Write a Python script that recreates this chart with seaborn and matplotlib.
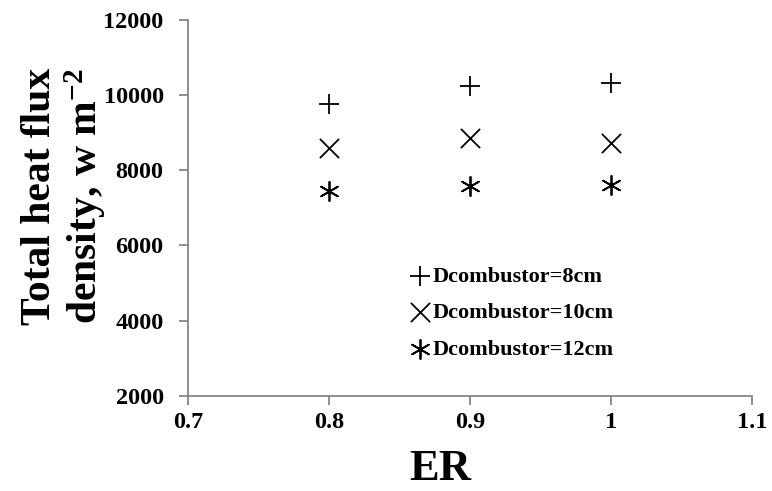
import matplotlib
matplotlib.use("Agg")
import matplotlib.pyplot as plt
import seaborn as sns
import pandas as pd

er = [0.8, 0.9, 1.0]
d8 = [9760, 10240, 10310]
d10 = [8580, 8850, 8720]
d12 = [7450, 7590, 7610]
labels = ["Dcombustor=8cm", "Dcombustor=10cm", "Dcombustor=12cm"]
xticks = [0.7, 0.8, 0.9, 1.0, 1.1]
xticklabels = ["0.7", "0.8", "0.9", "1", "1.1"]
yticks = [2000, 4000, 6000, 8000, 10000, 12000]

sns.set_theme(style="white")
plt.rcParams['font.family'] = ['Liberation Serif', 'DejaVu Serif']
plt.rcParams['font.weight'] = 'bold'
plt.rcParams['text.color'] = 'black'
plt.rcParams['axes.labelcolor'] = 'black'
plt.rcParams['mathtext.fontset'] = 'custom'
plt.rcParams['mathtext.rm'] = 'Liberation Serif:bold'
plt.rcParams['mathtext.bf'] = 'Liberation Serif:bold'
plt.rcParams['mathtext.default'] = 'bf'

fig = plt.figure(figsize=(7.72, 4.91), dpi=100)
ax = fig.add_axes([0.2435, 0.1935, 0.7305, 0.7665])

markers = ['+', 'x', (6, 2, 0)]
for vals, lab, m in zip([d8, d10, d12], labels, markers):
    df = pd.DataFrame({"ER": er, "flux": vals})
    sns.scatterplot(data=df, x="ER", y="flux", marker=m, color="black",
                    s=190, linewidth=1.3, label=lab, ax=ax)

ax.set_xlim(0.7, 1.1)
ax.set_ylim(2000, 12000)
ax.set_xticks(xticks)
ax.set_xticklabels(xticklabels)
ax.set_yticks(yticks)
for s in ['top', 'right']:
    ax.spines[s].set_visible(False)
for s in ['left', 'bottom']:
    ax.spines[s].set_color('#868686')
    ax.spines[s].set_linewidth(1.3)
ax.tick_params(axis='both', direction='out', length=6.5, width=1.3, color='#868686',
               labelsize=17.5, labelcolor='black')
ax.tick_params(axis='x', bottom=True, pad=5)
ax.tick_params(axis='y', left=True, pad=11)
for t in ax.get_xticklabels() + ax.get_yticklabels():
    t.set_fontweight('bold')

ax.set_xlabel("ER", fontsize=32, fontweight='bold', color='black')
ax.xaxis.set_label_coords((440 - 188) / 564, -0.14)
ax.set_ylabel("Total heat flux\ndensity, w m$^{-2}$", fontsize=30,
              fontweight='bold', linespacing=1.1, color='black')
ax.yaxis.set_label_coords(-0.142, 0.53)

leg = ax.legend(loc='upper left', bbox_to_anchor=(408 / 772, 1 - 266 / 491),
                bbox_transform=fig.transFigure, frameon=False,
                prop={'size': 16, 'weight': 'bold'}, handletextpad=0.0,
                handlelength=1.1, labelspacing=0.72, borderaxespad=0,
                borderpad=0)
for t in leg.get_texts():
    t.set_color('black')

fig.savefig("out.png", dpi=100)
